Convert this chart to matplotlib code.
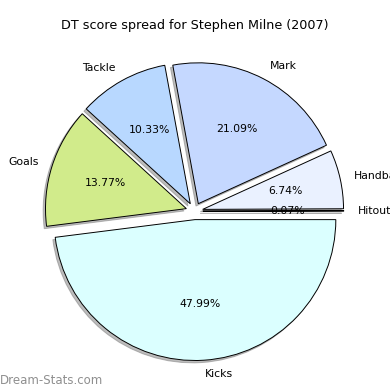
import matplotlib
matplotlib.use("Agg")
import matplotlib.pyplot as plt

labels = ["Hitout", "Handball", "Mark", "Tackle", "Goals", "Kicks"]
values = [0.07, 6.74, 21.09, 10.33, 13.77, 47.99]
colors = ["#f0f0f0", "#eaf1ff", "#c5d8ff", "#b8d8ff", "#d1eb8b", "#dbffff"]
title = "DT score spread for Stephen Milne (2007)"

fig = plt.figure(figsize=(3.9, 3.9), dpi=100)
ax = fig.add_axes([0.047, 0.007, 0.903, 0.903])
wedges, texts, autotexts = ax.pie(
    values, labels=labels, colors=colors, explode=[0.06] * len(values),
    autopct="%1.2f%%", startangle=0, counterclock=True,
    shadow=dict(ox=-0.012, oy=-0.012, facecolor="#7a7a7a", edgecolor="#7a7a7a"),
    wedgeprops=dict(edgecolor="black", linewidth=0.7),
    textprops=dict(fontsize=7.8), labeldistance=1.1, pctdistance=0.6)
ax.set_xlim(-1.25, 1.25)
ax.set_ylim(-1.25, 1.25)
ax.set_aspect("equal")
ax.axis("off")
fig.text(0.5, 0.935, title, ha="center", va="center", fontsize=9.2)
fig.text(0.0, 0.025, "Dream-Stats.com", ha="left", va="center", fontsize=8.5,
         color="#8f8f8f")
fig.savefig("out.png", dpi=100)
